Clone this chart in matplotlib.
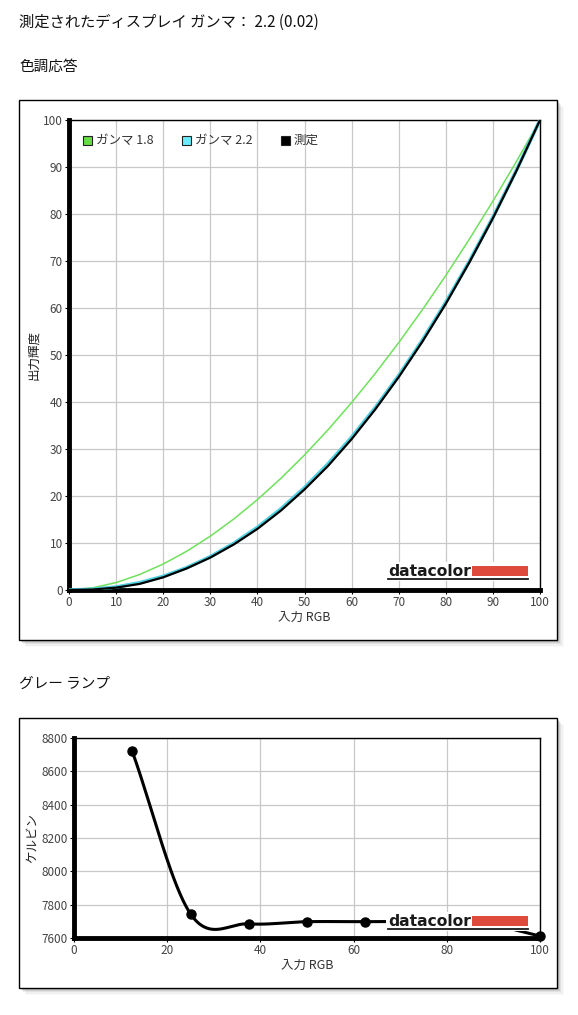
import matplotlib
matplotlib.use("Agg")
import matplotlib.pyplot as plt
from matplotlib.patches import Rectangle
from matplotlib.lines import Line2D
import numpy as np

plt.rcParams['font.family'] = ['Noto Sans CJK JP', 'DejaVu Sans']

# ---------------- data ----------------
title_text = "測定されたディスプレイ ガンマ： 2.2 (0.02)"
tone_title = "色調応答"
ramp_title = "グレー ランプ"

input_rgb = [0, 5, 10, 15, 20, 25, 30, 35, 40, 45, 50, 55, 60, 65, 70, 75, 80, 85, 90, 95, 100]
gamma18 = [0, 0.45, 1.58, 3.29, 5.52, 8.25, 11.45, 15.11, 19.22, 23.76, 28.72, 34.09,
           39.87, 46.05, 52.63, 59.58, 66.92, 74.64, 82.73, 91.18, 100]
gamma22 = [0, 0.14, 0.63, 1.54, 2.90, 4.74, 7.08, 9.93, 13.32, 17.26, 21.76, 26.84,
           32.50, 38.76, 45.63, 53.11, 61.21, 69.94, 79.31, 89.33, 100]
measured = [0, 0.10, 0.50, 1.30, 2.70, 4.60, 6.90, 9.70, 13.0, 16.9, 21.4, 26.4,
            32.1, 38.4, 45.3, 52.8, 60.9, 69.7, 79.1, 89.2, 100]
legend_labels = ["ガンマ 1.8", "ガンマ 2.2", "測定"]
tone_xlabel = "入力 RGB"
tone_ylabel = "出力輝度"

ramp_x = [12.5, 25, 37.5, 50, 62.5, 75, 87.5, 100]
ramp_kelvin = [8720, 7745, 7685, 7698, 7698, 7700, 7690, 7612]
ramp_xlabel = "入力 RGB"
ramp_ylabel = "ケルビン"

# ---------------- helpers ----------------
W, H = 578, 1015
fig = plt.figure(figsize=(W / 100, H / 100), dpi=100)
fig.patch.set_facecolor('white')
renderer = fig.canvas.get_renderer()


def fx(px):
    return px / W


def fy(py):
    return 1 - py / H


def frame(x0, y0, x1, y1):
    for i, a in enumerate([0.10, 0.08, 0.06, 0.04, 0.02]):
        off = 2 + i * 1.2
        fig.patches.append(Rectangle((fx(x0 + off), fy(y1 + off)), fx(x1 - x0), (y1 - y0) / H,
                                     transform=fig.transFigure, facecolor='black', alpha=a,
                                     edgecolor='none', zorder=0))
    fig.patches.append(Rectangle((fx(x0), fy(y1)), fx(x1 - x0), (y1 - y0) / H,
                                 transform=fig.transFigure, facecolor='white',
                                 edgecolor='black', linewidth=1.0, zorder=1))


def make_axes(l, t, r, b):
    ax = fig.add_axes([fx(l), fy(b), fx(r - l), (b - t) / H], zorder=2)
    ax.set_facecolor('white')
    for s in ['top', 'right']:
        ax.spines[s].set_linewidth(1.0)
    for s in ['left', 'bottom']:
        ax.spines[s].set_linewidth(3.5)
    ax.grid(True, color='#c8c8c8', linewidth=0.9)
    ax.set_axisbelow(True)
    ax.tick_params(axis='both', direction='out', length=3, width=0.8, colors='black',
                   labelcolor='#444444', labelsize=8.5, pad=1.5)
    return ax


def logo(ax, y_base_px, ax_box):
    l, t, r, b = ax_box

    def ax_x(px):
        return (px - l) / (r - l)

    def ax_y(py):
        return (b - py) / (b - t)

    ax.add_patch(Rectangle((ax_x(386), ax_y(y_base_px + 2)), ax_x(530) - ax_x(386),
                           ax_y(y_base_px - 17) - ax_y(y_base_px + 2),
                           transform=ax.transAxes, facecolor='white', edgecolor='none', zorder=5))
    txt = ax.text(ax_x(388), ax_y(y_base_px - 2.5), "datacolor", transform=ax.transAxes,
                  fontsize=12, fontweight='bold', family='DejaVu Sans', color='#1a1a1a',
                  ha='left', va='baseline', zorder=6)
    wpx = txt.get_window_extent(renderer=renderer).width
    txt.set_fontsize(12 * 83.0 / wpx)
    ax.add_patch(Rectangle((ax_x(472), ax_y(y_base_px - 3)), ax_x(528) - ax_x(472),
                           ax_y(y_base_px - 13) - ax_y(y_base_px - 3),
                           transform=ax.transAxes, facecolor='#de4a3b', edgecolor='none', zorder=6))
    ax.add_line(Line2D([ax_x(388), ax_x(528)], [ax_y(y_base_px), ax_y(y_base_px)],
                       transform=ax.transAxes, color='#1a1a1a', linewidth=1.3, zorder=6))


def catmull_rom(x, y, n=40):
    x = np.asarray(x, float)
    y = np.asarray(y, float)
    k = len(x)
    m = np.zeros(k)
    for i in range(k):
        if i == 0:
            m[i] = (y[1] - y[0]) / (x[1] - x[0])
        elif i == k - 1:
            m[i] = (y[-1] - y[-2]) / (x[-1] - x[-2])
        else:
            m[i] = (y[i + 1] - y[i - 1]) / (x[i + 1] - x[i - 1])
    xs_all, ys_all = [], []
    for i in range(k - 1):
        h = x[i + 1] - x[i]
        t = np.linspace(0, 1, n)
        h00 = 2 * t ** 3 - 3 * t ** 2 + 1
        h10 = t ** 3 - 2 * t ** 2 + t
        h01 = -2 * t ** 3 + 3 * t ** 2
        h11 = t ** 3 - t ** 2
        xs_all.append(x[i] + t * h)
        ys_all.append(h00 * y[i] + h10 * h * m[i] + h01 * y[i + 1] + h11 * h * m[i + 1])
    return np.concatenate(xs_all), np.concatenate(ys_all)


# ---------------- texts ----------------
fig.text(fx(19), fy(22), title_text, fontsize=11, color='#111111', ha='left', va='center')
fig.text(fx(19), fy(67), tone_title, fontsize=10.5, color='#111111', ha='left', va='center')
fig.text(fx(19), fy(684), ramp_title, fontsize=10.5, color='#111111', ha='left', va='center')

# ---------------- tone response ----------------
frame(19, 100, 557, 640)
box1 = (69, 120, 540, 590)
ax1 = make_axes(*box1)
ax1.plot(input_rgb, gamma18, color='#6fe05c', linewidth=1.1, zorder=3)
ax1.plot(input_rgb, gamma22, color='#4fcfe0', linewidth=2.6, zorder=3)
ax1.plot(input_rgb, measured, color='black', linewidth=1.6, zorder=4)
ax1.set_xlim(0, 100)
ax1.set_ylim(0, 100)
ax1.set_xticks(range(0, 101, 10))
ax1.set_yticks(range(0, 101, 10))
ax1.set_xlabel(tone_xlabel, fontsize=9, color='#333333', labelpad=1)
ax1.set_ylabel(tone_ylabel, fontsize=9, color='#222222', labelpad=2)
logo(ax1, 579, box1)

leg_colors = ['#66dd44', '#66eeff', 'black']
leg_x = [83, 182, 281]
l, t, r, b = box1
for lab, col, px in zip(legend_labels, leg_colors, leg_x):
    ax1.add_patch(Rectangle(((px - l) / (r - l), (b - 145) / (b - t)), 9 / (r - l), 9 / (b - t),
                            transform=ax1.transAxes, facecolor=col, edgecolor='#222222',
                            linewidth=0.8, zorder=7))
    ax1.text((px + 13 - l) / (r - l), (b - 140.5) / (b - t), lab, transform=ax1.transAxes,
             fontsize=9, color='#333333', ha='left', va='center', zorder=7)

# ---------------- gray ramp ----------------
frame(19, 718, 557, 988)
box2 = (74, 738, 540, 938)
ax2 = make_axes(*box2)
sx, sy = catmull_rom(ramp_x, ramp_kelvin)
ax2.plot(sx, sy, color='black', linewidth=2.2, zorder=3, clip_on=False)
ax2.plot(ramp_x, ramp_kelvin, 'o', color='black', markersize=6.5, zorder=4, clip_on=False)
ax2.set_xlim(0, 100)
ax2.set_ylim(7600, 8800)
ax2.set_xticks(range(0, 101, 20))
ax2.set_yticks(range(7600, 8801, 200))
ax2.set_xlabel(ramp_xlabel, fontsize=9, color='#333333', labelpad=1)
ax2.set_ylabel(ramp_ylabel, fontsize=9, color='#222222', labelpad=2)
logo(ax2, 929, box2)

fig.savefig("out.png", dpi=100, facecolor='white')
